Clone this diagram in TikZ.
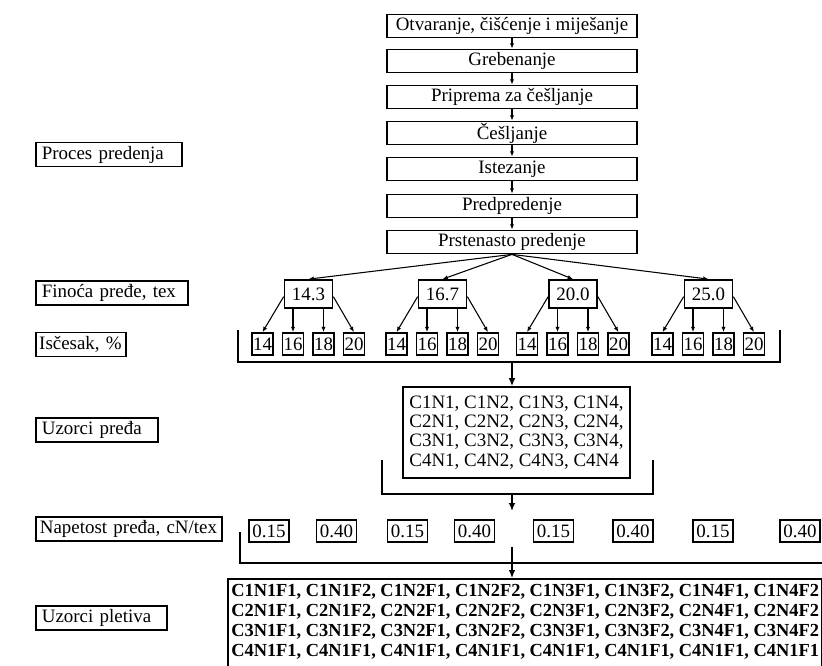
\documentclass[tikz,border=0pt]{standalone}
\usepackage{fontspec}
\setmainfont{Liberation Serif}
\usetikzlibrary{arrows.meta}
\begin{document}
\begin{tikzpicture}[x=0.75pt,y=-0.75pt,
  every node/.style={font=\fontsize{14.2}{15}\selectfont},
  procbox/.style={draw,line width=1.3pt,minimum width=187.5pt,minimum height=17.25pt,inner sep=0pt},
  lbl/.style={draw,line width=1.3pt,anchor=west,minimum height=18pt,inner ysep=0pt,inner xsep=4.5pt,align=left},
  finbox/.style={draw,line width=1.3pt,minimum width=36pt,minimum height=21pt,inner sep=0pt},
  noilbox/.style={draw,line width=1.3pt,minimum width=15.75pt,minimum height=16.5pt,inner sep=0pt},
  napbox/.style={draw,line width=1.3pt,minimum width=30pt,minimum height=16.5pt,inner sep=0pt},
  sarr/.style={-{Latex[length=4pt,width=3.2pt]},line width=0.8pt},
  barr/.style={-{Latex[length=6pt,width=5pt]},line width=1pt},
  brk/.style={line width=1pt},
]
\clip (0,0) rectangle (822,665);

% process chain
\node[procbox] (p1) at (512,26) {Otvaranje, čišćenje i miješanje};
\node[procbox] (p2) at (512,61) {Grebenanje};
\node[procbox] (p3) at (512,97) {Priprema za češljanje};
\node[procbox] (p4) at (512,133) {Češljanje};
\node[procbox] (p5) at (512,169) {Istezanje};
\node[procbox] (p6) at (512,206) {Predpredenje};
\node[procbox] (p7) at (512,242) {Prstenasto predenje};
\foreach \a/\b in {p1/p2,p2/p3,p3/p4,p4/p5,p5/p6,p6/p7}
  \draw[sarr] (\a) -- (\b);

% left labels
\node[lbl,text width=100.5pt] (lproc) at (35,154.5) {Proces predenja};
\node[lbl,text width=105pt] (lfin) at (35,293) {Finoća pređe, tex};
\node[lbl,inner xsep=2.5pt,text width=62.5pt] (lnoil) at (35,344.5) {Isčesak, \%};
\node[lbl,text width=82.5pt] (lyarn) at (35,430) {Uzorci pređa};
\node[lbl,inner xsep=3pt,text width=133.5pt] (lnap) at (35,529) {\mbox{Napetost pređa, cN/tex}};
\node[lbl,text width=89.25pt] (lknit) at (35,618) {Uzorci pletiva};

% fineness tree
\foreach \g/\b/\t in {1/262.5/14.3,2/396.5/16.7,3/527/20.0,4/662.5/25.0}{
  \node[finbox] (f\g) at ({\b+46},294) {\t};
  \draw[sarr] (p7.south) -- (f\g.north);
  \foreach \i/\v in {0/14,1/16,2/18,3/20}
    \node[noilbox] (n\g-\v) at ({\b+30.5*\i},344) {\v};
  \draw[sarr] ([yshift=-2pt]f\g.west) -- (n\g-14.north);
  \draw[sarr] (f\g.south -| n\g-16.north) -- (n\g-16.north);
  \draw[sarr] (f\g.south -| n\g-18.north) -- (n\g-18.north);
  \draw[sarr] ([yshift=-2pt]f\g.east) -- (n\g-20.north);
}

% bracket 1 and yarn samples
\coordinate (b1l) at (238,330);
\coordinate (b1r) at (780,330);
\coordinate (b1m) at (512,362);
\draw[brk] (b1l) |- (b1r |- b1m) -- (b1r);
\node[draw,line width=1.3pt,minimum width=170.25pt,minimum height=68.25pt,inner sep=0pt,align=left,
      font=\fontsize{14.2}{14.4}\selectfont] (yarn) at (516.5,432.5)
  {C1N1, C1N2, C1N3, C1N4,\\C2N1, C2N2, C2N3, C2N4,\\C3N1, C3N2, C3N3, C3N4,\\C4N1, C4N2, C4N3, C4N4};
\draw[barr] (b1m) -- (b1m |- yarn.north);

% bracket 2
\coordinate (b2l) at (382,460);
\coordinate (b2r) at (653,460);
\coordinate (b2m) at (512,494);
\coordinate (b2e) at (512,511);
\draw[brk] (b2l) |- (b2r |- b2m) -- (b2r);
\draw[barr] (b2m) -- (b2e);

% tension boxes
\foreach \x/\v [count=\k] in {269/0.15,336.5/0.40,407.5/0.15,474.5/0.40,553.5/0.15,633/0.40,713/0.15,800/0.40}
  \node[napbox] (t\k) at (\x,531) {\v};

% bracket 3
\coordinate (b3l) at (240,532);
\coordinate (b3r) at (824,563);
\coordinate (b3t) at (512,547);
\draw[brk] (b3l) |- (b3r);

% knitted samples
\node[draw,line width=1.3pt,anchor=north west,minimum width=445.5pt,minimum height=72pt,inner sep=0pt] (knit) at (227,578) {};
\draw[barr] (b3t) -- (b3t |- knit.north);
\node[anchor=west,align=left,inner sep=0pt,font=\bfseries\fontsize{13.8}{15}\selectfont] (knittxt) at (231,622)
  {C1N1F1, C1N1F2, C1N2F1, C1N2F2, C1N3F1, C1N3F2, C1N4F1, C1N4F2\\
   C2N1F1, C2N1F2, C2N2F1, C2N2F2, C2N3F1, C2N3F2, C2N4F1, C2N4F2\\
   C3N1F1, C3N1F2, C3N2F1, C3N2F2, C3N3F1, C3N3F2, C3N4F1, C3N4F2\\
   C4N1F1, C4N1F1, C4N1F1, C4N1F1, C4N1F1, C4N1F1, C4N1F1, C4N1F1};
\end{tikzpicture}
\end{document}
